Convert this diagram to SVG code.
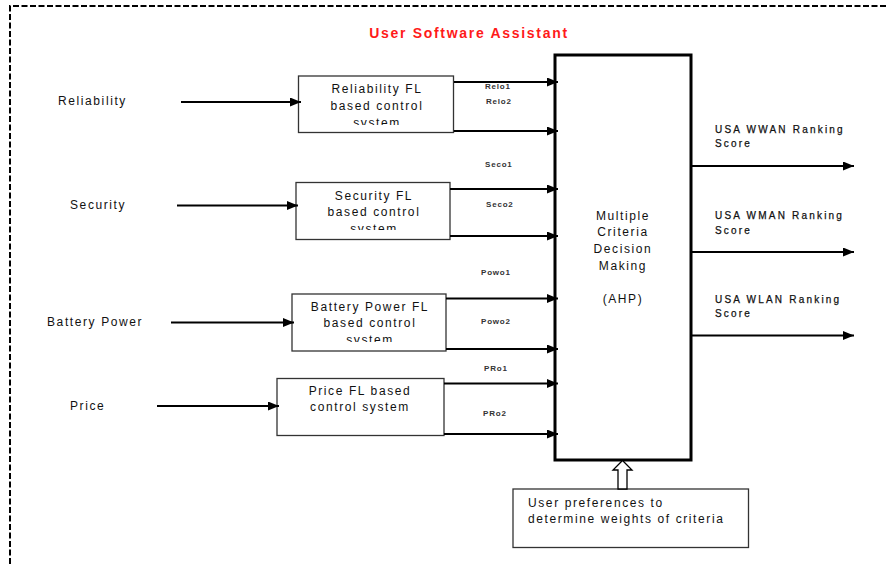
<svg xmlns="http://www.w3.org/2000/svg" width="888" height="564" viewBox="0 0 888 564">
<style>
  text { font-family: "Liberation Sans", Arial, sans-serif; fill: #111; }
  .t12 { font-size: 12px; letter-spacing: 1.6px; }
  .mid { text-anchor: middle; }
  .small { font-size: 8px; font-weight: bold; letter-spacing: 0.8px; fill: #333; }
  .out { font-size: 10px; letter-spacing: 2.2px; fill: #111; stroke: #111; stroke-width: 0.25; }
  .title { font-size: 14px; font-weight: bold; letter-spacing: 1.7px; fill: #ff1a1a; }
  .box { fill: #fff; stroke: #333; stroke-width: 1.3; }
  .conn line { stroke: #000; stroke-width: 2.2; marker-end: url(#ah); }
</style>
<defs>
  <marker id="ah" markerUnits="userSpaceOnUse" markerWidth="11" markerHeight="9" refX="11" refY="4.5" orient="auto">
    <path d="M0,0 L11,4.5 L0,9 z" fill="#000"/>
  </marker>
  <clipPath id="cRel"><rect x="298" y="76" width="156" height="49"/></clipPath>
  <clipPath id="cSec"><rect x="296" y="182" width="154" height="48"/></clipPath>
  <clipPath id="cBat"><rect x="292" y="294" width="154" height="48"/></clipPath>
</defs>
<rect width="888" height="564" fill="#fff"/>
<path d="M10,564 V6 H888" fill="none" stroke="#000" stroke-width="2" stroke-dasharray="6 2.5"/>
<text class="title mid" x="469" y="38">User Software Assistant</text>

<g id="label-reliability"><text class="t12" x="58" y="105">Reliability</text></g>
<g id="label-security"><text class="t12" x="70" y="209">Security</text></g>
<g id="label-battery"><text class="t12" x="47" y="326">Battery Power</text></g>
<g id="label-price"><text class="t12" x="70" y="410">Price</text></g>

<g id="node-reliability">
  <rect class="box" x="298.5" y="76" width="155" height="56.5"/>
  <g clip-path="url(#cRel)">
    <text class="t12 mid" x="377" y="93">Reliability FL</text>
    <text class="t12 mid" x="377" y="110">based control</text>
    <text class="t12 mid" x="377" y="127">system</text>
  </g>
</g>
<g id="node-security">
  <rect class="box" x="296" y="182.5" width="154" height="57"/>
  <g clip-path="url(#cSec)">
    <text class="t12 mid" x="374" y="200">Security FL</text>
    <text class="t12 mid" x="374" y="216">based control</text>
    <text class="t12 mid" x="374" y="233">system</text>
  </g>
</g>
<g id="node-battery">
  <rect class="box" x="292" y="294" width="154" height="57"/>
  <g clip-path="url(#cBat)">
    <text class="t12 mid" x="370" y="311">Battery Power FL</text>
    <text class="t12 mid" x="370" y="327">based control</text>
    <text class="t12 mid" x="370" y="344">system</text>
  </g>
</g>
<g id="node-price">
  <rect class="box" x="277" y="378.5" width="167" height="57"/>
  <text class="t12 mid" x="360" y="395">Price FL based</text>
  <text class="t12 mid" x="360" y="411">control system</text>
</g>
<g id="node-mcdm">
  <rect x="555" y="55" width="136" height="405" fill="#fff" stroke="#000" stroke-width="3"/>
  <text class="t12 mid" x="623" y="220">Multiple</text>
  <text class="t12 mid" x="623" y="236">Criteria</text>
  <text class="t12 mid" x="623" y="253">Decision</text>
  <text class="t12 mid" x="623" y="270">Making</text>
  <text class="t12 mid" x="623" y="303">(AHP)</text>
</g>
<g id="node-user">
  <rect class="box" x="513" y="489" width="235.5" height="58.5"/>
  <text class="t12" x="528" y="507">User preferences to</text>
  <text class="t12" x="528" y="523">determine weights of criteria</text>
</g>

<g id="connectors" class="conn">
  <line x1="181" y1="102" x2="301" y2="102"/>
  <line x1="177" y1="205.5" x2="298" y2="205.5"/>
  <line x1="171" y1="322.5" x2="294" y2="322.5"/>
  <line x1="157" y1="406" x2="279" y2="406"/>
  <line x1="454" y1="82" x2="558" y2="82"/>
  <line x1="454" y1="131" x2="558" y2="131"/>
  <line x1="450" y1="189" x2="558" y2="189"/>
  <line x1="450" y1="236" x2="558" y2="236"/>
  <line x1="446" y1="298.5" x2="558" y2="298.5"/>
  <line x1="446" y1="349" x2="558" y2="349"/>
  <line x1="444" y1="383.5" x2="558" y2="383.5"/>
  <line x1="444" y1="434" x2="558" y2="434"/>
  <line x1="691" y1="166" x2="854" y2="166"/>
  <line x1="691" y1="252" x2="854" y2="252"/>
  <line x1="691" y1="335.5" x2="854" y2="335.5"/>
  <polygon points="618,489 618,470 613,470 622.5,460.5 632,470 627,470 627,489" fill="#fff" stroke="#000" stroke-width="1.3"/>
</g>

<g id="connector-labels">
  <text class="small" x="485" y="89">Relo1</text>
  <text class="small" x="486" y="104">Relo2</text>
  <text class="small" x="485" y="167">Seco1</text>
  <text class="small" x="486" y="207">Seco2</text>
  <text class="small" x="481" y="275">Powo1</text>
  <text class="small" x="481" y="324">Powo2</text>
  <text class="small" x="484" y="371">PRo1</text>
  <text class="small" x="483" y="416">PRo2</text>
  <text class="out" x="715" y="133">USA WWAN Ranking</text>
  <text class="out" x="715" y="147">Score</text>
  <text class="out" x="715" y="219">USA WMAN Ranking</text>
  <text class="out" x="715" y="234">Score</text>
  <text class="out" x="715" y="303">USA WLAN Ranking</text>
  <text class="out" x="715" y="317">Score</text>
</g>
</svg>
